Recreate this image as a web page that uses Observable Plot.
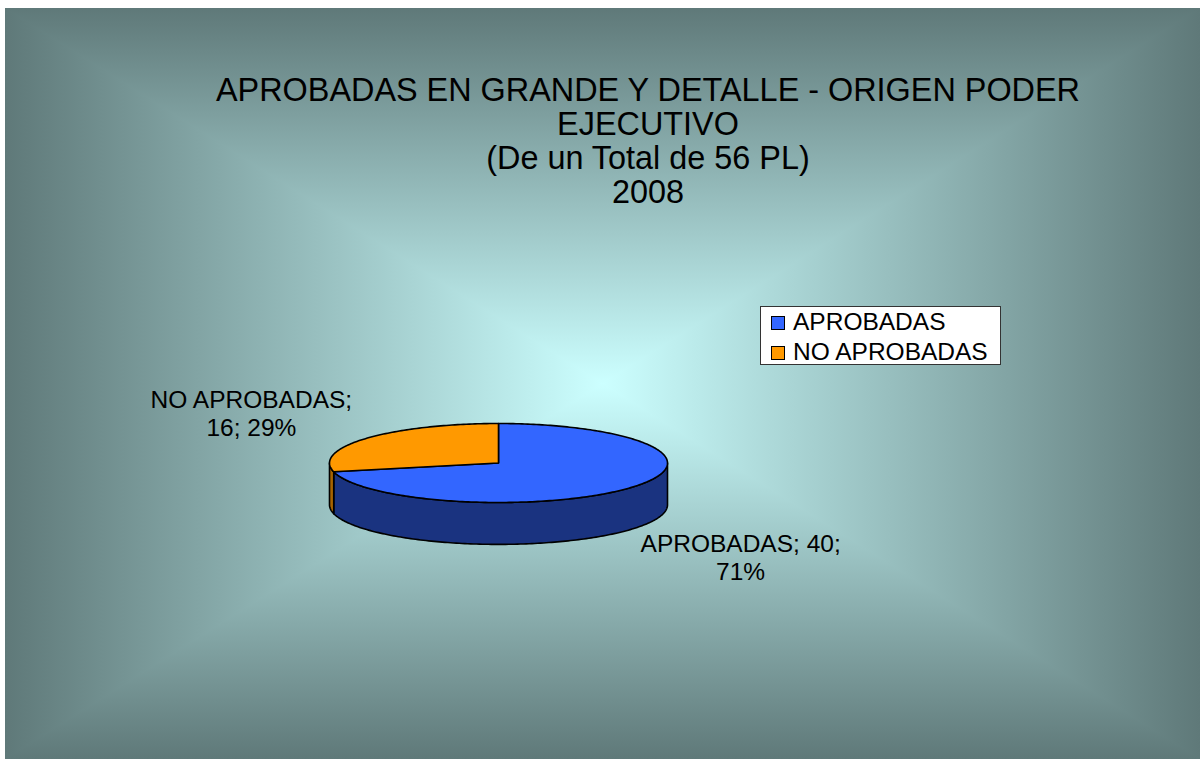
<!DOCTYPE html>
<html>
<head>
<meta charset="utf-8">
<script src="https://cdn.jsdelivr.net/npm/d3@7"></script>
<script src="https://cdn.jsdelivr.net/npm/@observablehq/plot@0.6"></script>
<style>
  body { margin: 0; background: #ffffff; }
  #chart { position: relative; width: 1200px; height: 759px; overflow: hidden;
           font-family: "Liberation Sans", Arial, sans-serif; color: #000; }
  .bg { position: absolute; left: 5px; top: 8px; width: 1195px; height: 751px;
        background: linear-gradient(to right, #5f7979 0%, #ccffff 50%, #5f7979 100%); }
  .tri { position: absolute; left: 0; top: 0; width: 100%; height: 100%; }
  .t { clip-path: polygon(-1px -1px, calc(100% + 1px) -1px, 50% 50%);
       background: linear-gradient(to bottom, #5f7979 0%, #ccffff 50%, #ccffff 100%); }
  .b { clip-path: polygon(-1px calc(100% + 1px), calc(100% + 1px) calc(100% + 1px), 50% 50%);
       background: linear-gradient(to top, #5f7979 0%, #ccffff 50%, #ccffff 100%); }
  #title { position: absolute; left: 648px; top: 73.4px; transform: translateX(-50%);
           text-align: center; white-space: nowrap; font-size: 32.4px; line-height: 34px; }
  #plot { position: absolute; left: 0; top: 0; }
  #legend { position: absolute; left: 760px; top: 306px; width: 239px; height: 57px;
            background: #ffffff; border: 1px solid #333; }
  .item { position: absolute; left: 10px; height: 28px; font-size: 24.5px; line-height: 28px; white-space: nowrap; }
  .sw { position: absolute; left: 0; top: 8px; width: 12px; height: 12px; border: 1px solid #000; }
  .lab { position: absolute; left: 22px; top: 0; }
</style>
</head>
<body>
<div id="chart">
  <div class="bg">
    <div class="tri t"></div><div class="tri b"></div>
  </div>
  <div id="title"></div>
  <div id="plot"></div>
  <div id="legend"></div>
</div>
<script>
// ---- data ----
const categories = ["APROBADAS", "NO APROBADAS"];
const values = [40, 16];
const topColors = ["#3366ff", "#ff9900"];
const sideColors = ["#1a3380", "#a86400"];
const titleLines = [
  "APROBADAS EN GRANDE Y DETALLE - ORIGEN PODER",
  "EJECUTIVO",
  "(De un Total de 56 PL)",
  "2008"
];

// ---- geometry (unit ellipse, y up = back of pie) ----
const total = d3.sum(values);
const arcs = d3.pie().sort(null).value(d => d)(values);
const DEPTH = 1.06;
function arcPts(a0, a1, drop) {
  const n = Math.max(2, Math.ceil(Math.abs(a1 - a0) / (Math.PI / 180)));
  const pts = [];
  for (let k = 0; k <= n; k++) {
    const a = a0 + (a1 - a0) * k / n;
    pts.push({x: Math.sin(a), y: Math.cos(a) - drop});
  }
  return pts;
}
const tops = arcs.map(a => [{x: 0, y: 0}, ...arcPts(a.startAngle, a.endAngle, 0), {x: 0, y: 0}]);
const sides = arcs.map(a => {
  const s0 = Math.max(a.startAngle, Math.PI / 2);
  const s1 = Math.min(a.endAngle, 3 * Math.PI / 2);
  if (s1 <= s0) return [];
  const pts = [...arcPts(s0, s1, 0), ...arcPts(s1, s0, DEPTH)];
  pts.push(pts[0]);
  return pts;
});
const labels = arcs.map((a, i) => {
  const mid = (a.startAngle + a.endAngle) / 2;
  const pct = Math.round(values[i] / total * 100);
  return {x: Math.sin(mid), y: Math.cos(mid), text: `${categories[i]}; ${values[i]}; ${pct}%`};
});
const labelOffsets = [[110, 69], [-115, -25.6]];

const marks = [];
sides.forEach((p, i) => { if (p.length) marks.push(Plot.line(p, {x: "x", y: "y", fill: sideColors[i], stroke: "#000", strokeWidth: 1.6, strokeLinejoin: "round"})); });
tops.forEach((p, i) => marks.push(Plot.line(p, {x: "x", y: "y", fill: topColors[i], stroke: "#000", strokeWidth: 1.6, strokeLinejoin: "round"})));
labels.forEach((d, i) => marks.push(Plot.text([d], {
  x: "x", y: "y", text: "text", dx: labelOffsets[i][0], dy: labelOffsets[i][1],
  fontSize: 24.5, lineHeight: 28 / 24.5, lineWidth: 9, fill: "#000", textAnchor: "middle",
  fontFamily: "Liberation Sans, Arial, sans-serif"
})));

const chart = Plot.plot({
  width: 1200, height: 759, margin: 0,
  x: {domain: [-1, 1], range: [329, 667], axis: null},
  y: {domain: [-1, 1], range: [502, 423], axis: null},
  style: {background: "transparent", overflow: "visible", fontFamily: "Liberation Sans, Arial, sans-serif"},
  marks
});
document.getElementById("plot").appendChild(chart);

// ---- title ----
document.getElementById("title").innerHTML = titleLines.map(s => `<div>${s}</div>`).join("");

// ---- legend ----
const leg = document.getElementById("legend");
categories.forEach((c, i) => {
  const it = document.createElement("div");
  it.className = "item";
  it.style.top = (1 + i * 29.5) + "px";
  it.innerHTML = `<span class="sw" style="background:${topColors[i]}"></span><span class="lab">${c}</span>`;
  leg.appendChild(it);
});
</script>
</body>
</html>
